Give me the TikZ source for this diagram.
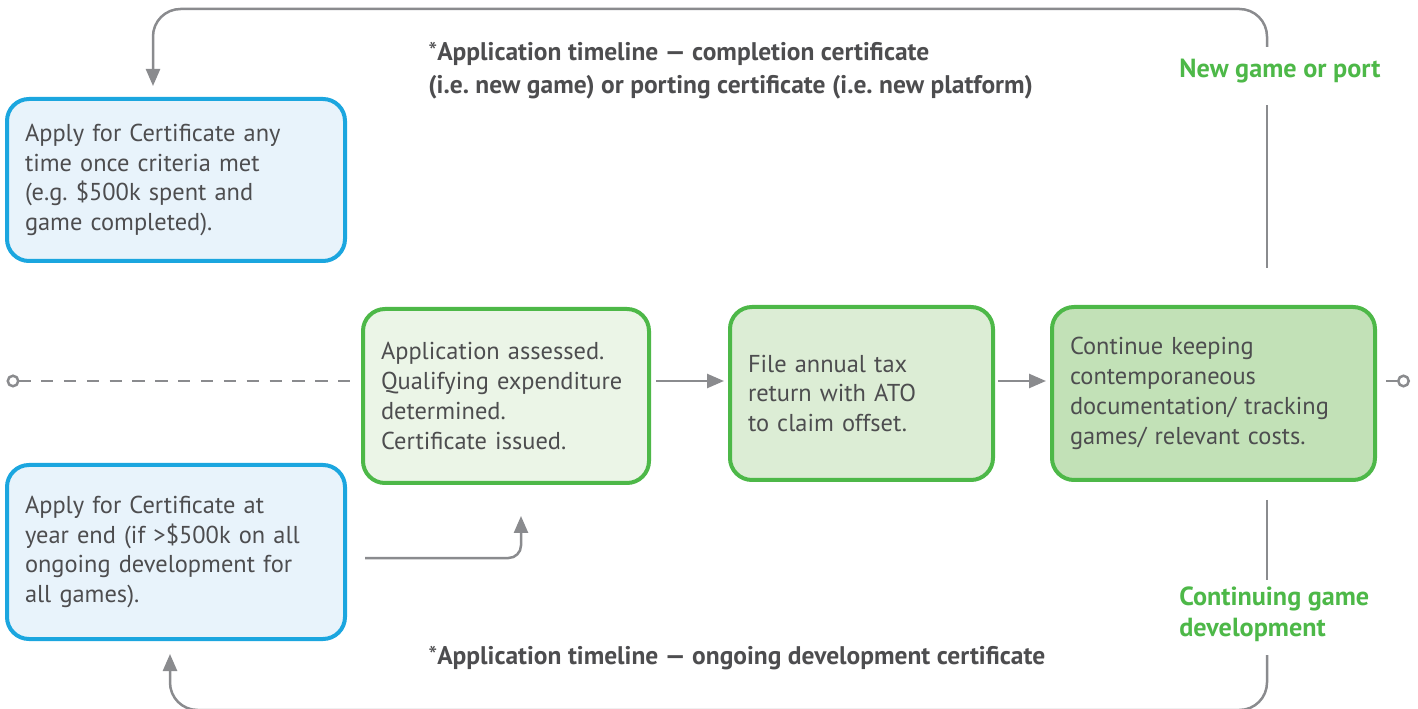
\documentclass[tikz,border=0pt]{standalone}
\usepackage{fontspec}
\setmainfont{PT Sans}
\frenchspacing
\usetikzlibrary{arrows.meta}
\definecolor{certblue}{RGB}{27,166,223}
\definecolor{blueback}{RGB}{232,243,251}
\definecolor{certgreen}{RGB}{77,184,72}
\definecolor{assessback}{RGB}{235,245,231}
\definecolor{taxback}{RGB}{220,237,213}
\definecolor{keepback}{RGB}{194,225,183}
\definecolor{linegray}{RGB}{138,139,142}
\definecolor{textgray}{RGB}{77,77,79}
\tikzset{
	box/.style={draw, line width=0.8mm, rounded corners=0.44cm, inner xsep=0.36cm, align=left,
		text=textgray, font=\fontsize{13.9}{17}\selectfont},
	bluebox/.style={box, draw=certblue, fill=blueback},
	greenbox/.style={box, draw=certgreen},
	heading/.style={inner sep=0, align=left, text=textgray, font=\bfseries\fontsize{14.5}{18.7}\selectfont},
	greenlabel/.style={inner sep=0, align=left, text=certgreen, font=\bfseries\fontsize{14.9}{17.6}\selectfont},
	plain/.style={draw=linegray, line width=0.5mm},
	flow/.style={plain, -{Triangle[length=0.34cm, width=0.28cm]}},
}

\begin{document}
\begin{tikzpicture}
			%%%%% START %%%%%
			\useasboundingbox (0, 0) rectangle (28.36, -14.18);
			
			\node[bluebox, text width=6.04cm, minimum height=3.24cm] (applyany) at (3.52, -3.6)
				{Apply for Certificate any\\time once criteria met\\(e.g. \$500k spent and\\game completed).};
			\node[bluebox, text width=6.04cm, minimum height=3.48cm] (applyyear) at (3.52, -11.04)
				{Apply for Certificate at\\year end (if >\$500k on all\\ongoing development for\\all games).};
			
			\node[greenbox, fill=assessback, text width=5cm, minimum height=3.48cm] (assessed) at (10.12, -7.92)
				{Application assessed.\\Qualifying expenditure\\determined.\\Certificate issued.};
			\node[greenbox, fill=taxback, text width=4.54cm, minimum height=3.46cm] (taxreturn) at (17.23, -7.87)
				{File annual tax\\return with ATO\\to claim offset.};
			\node[greenbox, fill=keepback, text width=5.74cm, minimum height=3.46cm] (keeping) at (24.27, -7.87)
				{Continue keeping\\contemporaneous\\documentation/ tracking\\games/ relevant costs.};
			
			\node[heading, anchor=west] (toptitle) at (8.56, -1.42)
				{{\mdseries *}Application timeline --- completion certificate\\(i.e. new game) or porting certificate (i.e. new platform)};
			\node[heading, anchor=west] (bottitle) at (8.56, -13.16)
				{{\mdseries *}Application timeline --- ongoing development certificate};
			\node[greenlabel, anchor=west] (newgame) at (23.58, -1.42) {New game or port};
			\node[greenlabel, anchor=west] (continuing) at (23.58, -12.28) {Continuing game\\development};
			
			% free ends
			\coordinate (midline) at (0, -7.62);
			\coordinate (leftend) at (0.13, -7.62);
			\coordinate (rightend) at (28.2, -7.62);
			\coordinate (topbase) at (25.34, -5.36);
			\coordinate (topgap) at (25.34, -2.1);
			\coordinate (topresume) at (25.34, -0.94);
			\coordinate (topleft) at (3.06, -0.18);
			\coordinate (botbase) at (25.34, -10.0);
			\coordinate (botgap) at (25.34, -11.6);
			\coordinate (botresume) at (25.34, -13.1);
			\coordinate (botleft) at (3.4, -14.2);
			\coordinate (yearout) at (7.3, -11.16);
			\coordinate (yearin) at (10.42, -11.16);
			
			% timeline
			\draw[plain, dashed, dash pattern=on 7pt off 6pt, {Circle[open, length=0.26cm]}-, shorten >=0.14cm]
				(leftend) -- (assessed.west |- midline);
			\draw[flow, shorten <=0.1cm, shorten >=0.08cm] (assessed.east |- midline) -- (taxreturn.west |- midline);
			\draw[flow, shorten <=0.06cm, shorten >=0.08cm] (taxreturn.east |- midline) -- (keeping.west |- midline);
			\draw[plain, -{Circle[open, length=0.26cm]}, shorten <=0.18cm] (keeping.east |- midline) -- (rightend);
			
			% top loop
			\draw[plain] (topbase) -- (topgap);
			\draw[flow, rounded corners=0.55cm, shorten >=0.22cm] (topresume) |- (topleft) -- (applyany.north -| topleft);
			
			% bottom loop
			\draw[plain] (botbase) -- (botgap);
			\draw[flow, rounded corners=0.55cm, shorten >=0.26cm] (botresume) |- (botleft) -- (applyyear.south -| botleft);
			
			% year end to assessment
			\draw[flow, rounded corners=0.25cm, shorten >=0.62cm] (yearout) -| (assessed.south -| yearin);
			
			%%%%% END %%%%%
\end{tikzpicture}
\end{document}
